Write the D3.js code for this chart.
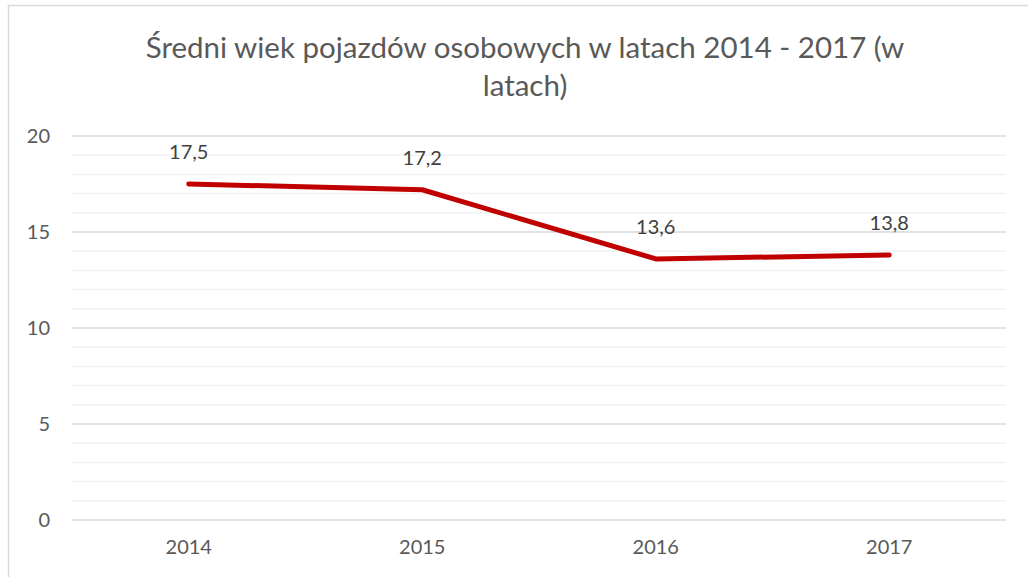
<!DOCTYPE html>
<html>
<head>
<meta charset="utf-8">
<script src="https://cdn.jsdelivr.net/npm/d3@7"></script>
<style>
  body { margin: 0; background: #fff; }
  svg { display: block; font-family: Lato, "Open Sans", sans-serif; }
</style>
</head>
<body>
<div id="chart"></div>
<script>
const width = 1028
const height = 577
const margin = {top: 136, bottom: 57, left: 72, right: 22}

const titleLines = ["Średni wiek pojazdów osobowych w latach 2014 - 2017 (w", "latach)"]
const years = ["2014", "2015", "2016", "2017"]
const values = [17.5, 17.2, 13.6, 13.8]
const labels = ["17,5", "17,2", "13,6", "13,8"]
const yTicks = [0, 5, 10, 15, 20]
const minorTicks = d3.range(0, 21, 1)

const svg = d3.select("#chart").append("svg").attr("width", width).attr("height", height)

// chart border
svg.append("rect")
    .attr("x", 8.5).attr("y", 5.5)
    .attr("width", width + 10).attr("height", height + 10)
    .attr("fill", "none").attr("stroke", "#d9d9d9").attr("stroke-width", 1.5)

const title = svg.append("text")
    .attr("text-anchor", "middle")
    .attr("fill", "#595959")
    .style("font-size", "29.5px")
titleLines.forEach((t, i) => {
    title.append("tspan").attr("x", 525).attr("y", 58 + i * 38).text(t)
})

const innerW = width - margin.left - margin.right
const innerH = height - margin.top - margin.bottom

const x = d3.scaleBand().domain(years).range([0, innerW])
const y = d3.scaleLinear().domain([0, 20]).range([innerH, 0])

const g = svg.append("g").attr("transform", `translate(${margin.left}, ${margin.top})`)

// minor gridlines
g.append("g").selectAll("line")
    .data(minorTicks.filter(d => d % 5 !== 0))
    .enter().append("line")
    .attr("x1", 0).attr("x2", innerW)
    .attr("y1", d => y(d)).attr("y2", d => y(d))
    .attr("stroke", "#f2f2f2").attr("stroke-width", 1.5)

// major gridlines
g.append("g").selectAll("line")
    .data(yTicks)
    .enter().append("line")
    .attr("x1", 0).attr("x2", innerW)
    .attr("y1", d => y(d)).attr("y2", d => y(d))
    .attr("stroke", "#d9d9d9").attr("stroke-width", 1.5)

const yAxis = d3.axisLeft(y).tickValues(yTicks).tickSize(0).tickPadding(22)
const yAxisGroup = g.append("g").call(yAxis)
yAxisGroup.select(".domain").remove()
yAxisGroup.selectAll("text").attr("fill", "#595959").style("font-size", "20px")
    .style("font-family", "Lato, 'Open Sans', sans-serif")

const xAxis = d3.axisBottom(x).tickSize(0).tickPadding(20)
const xAxisGroup = g.append("g").attr("transform", `translate(0, ${innerH})`).call(xAxis)
xAxisGroup.select(".domain").remove()
xAxisGroup.selectAll("text").attr("fill", "#595959").style("font-size", "20px")
    .style("font-family", "Lato, 'Open Sans', sans-serif")

const line = d3.line()
    .x((d, i) => x(years[i]) + x.bandwidth() / 2)
    .y(d => y(d))

g.append("path")
    .datum(values)
    .attr("d", line)
    .attr("fill", "none")
    .attr("stroke", "#c00000")
    .attr("stroke-width", 5)
    .attr("stroke-linecap", "round")
    .attr("stroke-linejoin", "round")

g.append("g").selectAll("text")
    .data(values)
    .enter().append("text")
    .attr("x", (d, i) => x(years[i]) + x.bandwidth() / 2)
    .attr("y", d => y(d) - 25)
    .attr("text-anchor", "middle")
    .attr("fill", "#404040")
    .style("font-size", "20px")
    .text((d, i) => labels[i])
</script>
</body>
</html>
